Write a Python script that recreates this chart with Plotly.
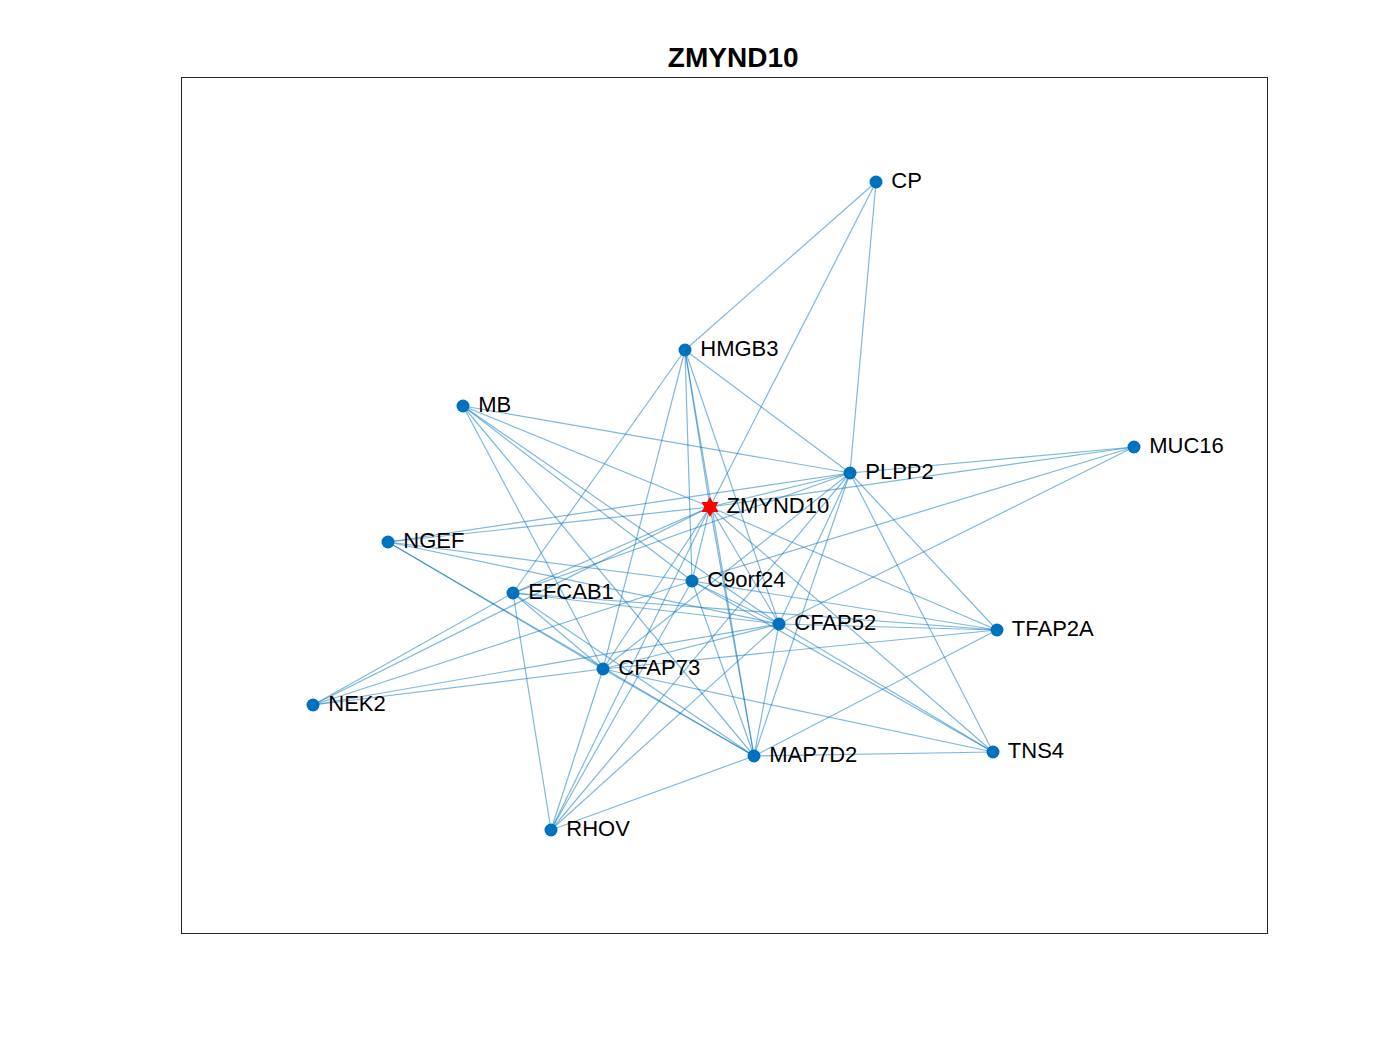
import plotly.graph_objects as go

# node positions (pixel-like layout coordinates)
names = ["CP", "HMGB3", "MB", "MUC16", "PLPP2", "ZMYND10", "NGEF", "C9orf24",
         "EFCAB1", "CFAP52", "TFAP2A", "CFAP73", "NEK2", "TNS4", "MAP7D2", "RHOV"]
xs = [876, 685, 463, 1134, 850, 710, 388, 692, 513, 779, 997, 603, 313, 993, 754, 551]
ys = [182, 350, 406, 447, 473, 507, 542, 581, 593, 624, 630, 669, 705, 752, 756, 830]

edges = [
    ("CP", "HMGB3"), ("CP", "PLPP2"), ("CP", "ZMYND10"),
    ("MUC16", "PLPP2"), ("MUC16", "ZMYND10"), ("MUC16", "C9orf24"), ("MUC16", "CFAP52"),
    ("HMGB3", "EFCAB1"), ("HMGB3", "CFAP73"), ("HMGB3", "C9orf24"), ("HMGB3", "ZMYND10"),
    ("HMGB3", "MAP7D2"), ("HMGB3", "PLPP2"), ("HMGB3", "CFAP52"),
    ("MB", "PLPP2"), ("MB", "ZMYND10"), ("MB", "C9orf24"), ("MB", "CFAP52"),
    ("MB", "CFAP73"), ("MB", "MAP7D2"),
    ("NGEF", "PLPP2"), ("NGEF", "ZMYND10"), ("NGEF", "C9orf24"), ("NGEF", "CFAP52"),
    ("NGEF", "CFAP73"), ("NGEF", "MAP7D2"),
    ("NEK2", "EFCAB1"), ("NEK2", "ZMYND10"), ("NEK2", "CFAP73"), ("NEK2", "CFAP52"),
    ("NEK2", "C9orf24"),
    ("EFCAB1", "ZMYND10"), ("EFCAB1", "PLPP2"), ("EFCAB1", "CFAP52"), ("EFCAB1", "TFAP2A"),
    ("EFCAB1", "RHOV"), ("EFCAB1", "MAP7D2"), ("EFCAB1", "CFAP73"),
    ("C9orf24", "ZMYND10"), ("C9orf24", "TFAP2A"), ("C9orf24", "TNS4"), ("C9orf24", "MAP7D2"),
    ("C9orf24", "RHOV"), ("C9orf24", "CFAP52"),
    ("CFAP73", "ZMYND10"), ("CFAP73", "PLPP2"), ("CFAP73", "TFAP2A"), ("CFAP73", "TNS4"),
    ("CFAP73", "RHOV"), ("CFAP73", "CFAP52"), ("CFAP73", "MAP7D2"),
    ("CFAP52", "ZMYND10"), ("CFAP52", "PLPP2"), ("CFAP52", "TFAP2A"), ("CFAP52", "TNS4"),
    ("CFAP52", "MAP7D2"), ("CFAP52", "RHOV"),
    ("PLPP2", "TFAP2A"), ("PLPP2", "TNS4"), ("PLPP2", "MAP7D2"), ("PLPP2", "ZMYND10"),
    ("PLPP2", "RHOV"),
    ("ZMYND10", "TFAP2A"), ("ZMYND10", "TNS4"), ("ZMYND10", "MAP7D2"), ("ZMYND10", "RHOV"),
    ("TFAP2A", "MAP7D2"), ("MAP7D2", "TNS4"), ("MAP7D2", "RHOV"),
]

pos = {n: (x, y) for n, x, y in zip(names, xs, ys)}
ex, ey = [], []
for a, b in edges:
    ex += [pos[a][0], pos[b][0], None]
    ey += [pos[a][1], pos[b][1], None]

fig = go.Figure()
fig.add_trace(go.Scatter(x=ex, y=ey, mode="lines", hoverinfo="skip",
                         line=dict(color="rgba(0,114,189,0.5)", width=1.2)))

hub = "ZMYND10"
others = [i for i, n in enumerate(names) if n != hub]
fig.add_trace(go.Scatter(
    x=[xs[i] for i in others], y=[ys[i] for i in others], mode="markers+text",
    text=[" " + names[i] for i in others], textposition="middle right",
    textfont=dict(family="Arial", size=22, color="black"),
    marker=dict(color="#0072BD", size=13)))
h = names.index(hub)
fig.add_trace(go.Scatter(
    x=[xs[h]], y=[ys[h]], mode="markers+text", text=[" " + hub],
    textposition="middle right", textfont=dict(family="Arial", size=22, color="black"),
    marker=dict(color="red", size=15, symbol="hexagram")))

fig.update_layout(
    width=1400, height=1050, showlegend=False,
    paper_bgcolor="white", plot_bgcolor="white",
    margin=dict(l=174, r=141, t=70, b=125),
    title=dict(text="<b>ZMYND10</b>", x=0.518, xanchor="center",
               y=1 - 49 / 1050, yanchor="middle",
               font=dict(family="Arial", size=28, color="black")),
    xaxis=dict(range=[182, 1267], showticklabels=False, showgrid=False, zeroline=False,
               showline=True, mirror=True, linecolor="#262626", linewidth=1.2, ticks=""),
    yaxis=dict(range=[933, 78], showticklabels=False, showgrid=False, zeroline=False,
               showline=True, mirror=True, linecolor="#262626", linewidth=1.2, ticks=""),
)

fig.write_html("out.html")
